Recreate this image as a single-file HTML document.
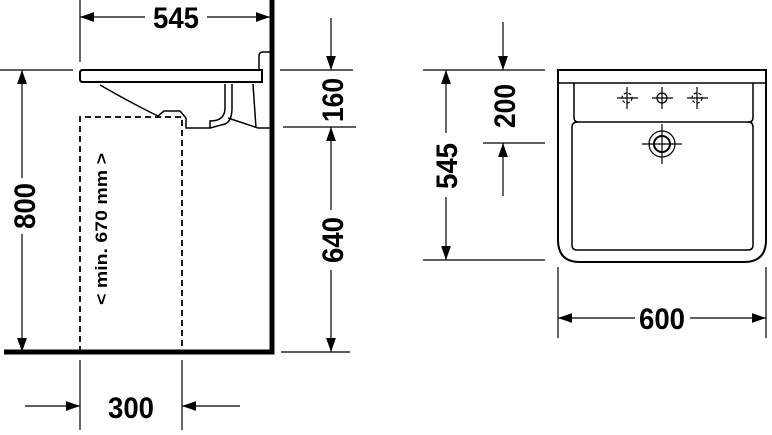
<!DOCTYPE html>
<html><head><meta charset="utf-8"><style>
html,body{margin:0;padding:0;background:#fff;}
svg{display:block}
text{font-family:"Liberation Sans",sans-serif;font-weight:bold;fill:#000}
</style></head><body>
<svg width="772" height="435" viewBox="0 0 772 435" xmlns="http://www.w3.org/2000/svg">
<defs>
<marker id="a" viewBox="0 0 10 10" refX="10" refY="5" markerWidth="14" markerHeight="14" markerUnits="userSpaceOnUse" orient="auto-start-reverse"><path d="M0,1.5 L10,5 L0,8.5 Z" fill="#000"/></marker>
</defs>
<g stroke="#000" fill="none" stroke-width="1.2">
<path d="M272,0 V352 H4" stroke-width="5"/>
<line x1="80" y1="0" x2="80" y2="62"/>
<line x1="80" y1="17" x2="145" y2="17" marker-start="url(#a)"/>
<line x1="207" y1="17" x2="270" y2="17" marker-end="url(#a)"/>
<path d="M83,70 H262 V82 H83 Q80,82 80,79 V73 Q80,70 83,70 Z" stroke-width="2"/>
<path d="M259,70 V56 Q259,52 263,52 H270" stroke-width="1.5"/>
<path d="M100,85 Q135,105 158,116 L164,111 H180 L186,118 V128 H210 V121 Q225,121 225,108 V84" stroke-width="1.5"/>
<path d="M232,84 V108 Q232,121 225,124 L210,128 M228,118 L258,128 H270 M253,84 L256,128" stroke-width="1.5"/>
<path d="M80,352 V117 H182 V352" stroke-dasharray="6,4" stroke-width="1.8"/>
<line x1="0" y1="70" x2="73" y2="70"/>
<line x1="22" y1="70" x2="22" y2="178" marker-start="url(#a)"/>
<line x1="22" y1="234" x2="22" y2="352" marker-end="url(#a)"/>
<line x1="280" y1="70" x2="353" y2="70"/>
<line x1="283" y1="127" x2="356" y2="127"/>
<line x1="281" y1="352" x2="350" y2="352"/>
<line x1="331" y1="18" x2="331" y2="70" marker-end="url(#a)"/>
<line x1="331" y1="127" x2="331" y2="210" marker-start="url(#a)"/>
<line x1="331" y1="270" x2="331" y2="352" marker-end="url(#a)"/>
<line x1="80" y1="360" x2="80" y2="430"/>
<line x1="182" y1="360" x2="182" y2="430"/>
<line x1="25" y1="406" x2="80" y2="406" marker-end="url(#a)"/>
<line x1="240" y1="406" x2="182" y2="406" marker-end="url(#a)"/>
<path d="M558,70 H766 V240 Q766,262 744,262 H580 Q558,262 558,240 Z" stroke-width="2"/>
<line x1="558" y1="83" x2="766" y2="83" stroke-width="1.5"/>
<path d="M574,83 V117 Q574,122 578,122 H749 Q753,122 753,117 V83" stroke-width="1.5"/>
<path d="M578,122 Q572,122 572,127 V245 Q572,250 577,250 H748 Q753,250 753,245 V127 Q753,122 748,122" stroke-width="1.5"/>
<g stroke-width="1.2">
<circle cx="627" cy="98" r="5" stroke-dasharray="3,2"/><line x1="617" y1="98" x2="638" y2="98"/><line x1="627" y1="87" x2="627" y2="109"/>
<circle cx="662" cy="98" r="5"/><line x1="652" y1="98" x2="673" y2="98"/><line x1="662" y1="87" x2="662" y2="109"/>
<circle cx="697" cy="98" r="5" stroke-dasharray="3,2"/><line x1="687" y1="98" x2="708" y2="98"/><line x1="697" y1="87" x2="697" y2="109"/>
<circle cx="662" cy="144" r="13"/><circle cx="662" cy="144" r="8" stroke-width="2"/>
<line x1="642" y1="144" x2="682" y2="144"/><line x1="662" y1="124" x2="662" y2="164"/>
</g>
<line x1="423" y1="70" x2="545" y2="70"/>
<line x1="423" y1="260" x2="545" y2="260"/>
<line x1="446" y1="70" x2="446" y2="133" marker-start="url(#a)"/>
<line x1="446" y1="197" x2="446" y2="260" marker-end="url(#a)"/>
<line x1="503" y1="22" x2="503" y2="70" marker-end="url(#a)"/>
<line x1="483" y1="143" x2="545" y2="143"/>
<line x1="503" y1="143" x2="503" y2="196" marker-start="url(#a)"/>
<line x1="558" y1="267" x2="558" y2="338"/>
<line x1="766" y1="267" x2="766" y2="338"/>
<line x1="558" y1="318" x2="635" y2="318" marker-start="url(#a)"/>
<line x1="690" y1="318" x2="766" y2="318" marker-end="url(#a)"/>
</g>
<g font-size="30">
<text x="176" y="28" text-anchor="middle" textLength="46" lengthAdjust="spacingAndGlyphs">545</text>
<text x="131" y="418" text-anchor="middle" textLength="46" lengthAdjust="spacingAndGlyphs">300</text>
<text x="662" y="329" text-anchor="middle" textLength="46" lengthAdjust="spacingAndGlyphs">600</text>
<text transform="translate(35,206) rotate(-90)" text-anchor="middle" textLength="46" lengthAdjust="spacingAndGlyphs">800</text>
<text transform="translate(343,100) rotate(-90)" text-anchor="middle" textLength="44" lengthAdjust="spacingAndGlyphs">160</text>
<text transform="translate(343,240) rotate(-90)" text-anchor="middle" textLength="46" lengthAdjust="spacingAndGlyphs">640</text>
<text transform="translate(457,166) rotate(-90)" text-anchor="middle" textLength="46" lengthAdjust="spacingAndGlyphs">545</text>
<text transform="translate(515,106) rotate(-90)" text-anchor="middle" textLength="44" lengthAdjust="spacingAndGlyphs">200</text>
</g>
<text transform="translate(107,229) rotate(-90)" text-anchor="middle" font-size="17" textLength="152" lengthAdjust="spacingAndGlyphs">&lt; min. 670 mm &gt;</text>
</svg>
</body></html>
